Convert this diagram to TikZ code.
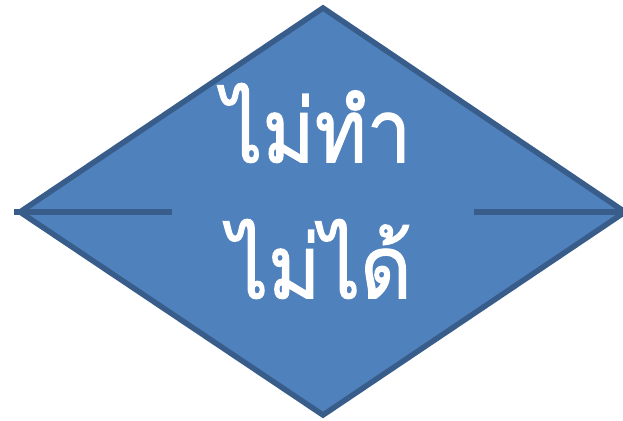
\documentclass[tikz,border=0pt]{standalone}
\usepackage{graphicx}
\usepackage{fontspec}
\newfontfamily\thaifont[Script=Thai,FakeBold=1.5]{Loma}
\definecolor{dfill}{HTML}{4F81BD}
\definecolor{dline}{HTML}{385D8A}
\tikzset{
  edge/.style={draw=dline, line width=5.5pt, line join=miter},
  thaitext/.style={text=white, font=\thaifont\fontsize{88}{100}\selectfont, inner sep=0pt, anchor=center}
}
\begin{document}
\begin{tikzpicture}[x=1pt,y=-1pt]
\useasboundingbox (0,0) rectangle (623,420);
\coordinate (L) at (20,212);
\coordinate (T) at (323,8);
\coordinate (R) at (625,212);
\coordinate (B) at (323,415);
\path[edge, fill=dfill] (L) -- (T) -- (R) -- (B) -- cycle;
\coordinate (l1) at (14,212);
\coordinate (l2) at (172,212);
\coordinate (r1) at (474,212);
\coordinate (r2) at (623,212);
\draw[edge] (l1) -- (l2);
\draw[edge] (r1) -- (r2);
\node[thaitext] (t1) at (317,123) {\scalebox{0.9}[1]{ไม่ทำ}};
\node[thaitext] (t2) at (320,259) {\scalebox{0.9}[1]{ไม่ได้}};
\end{tikzpicture}
\end{document}
